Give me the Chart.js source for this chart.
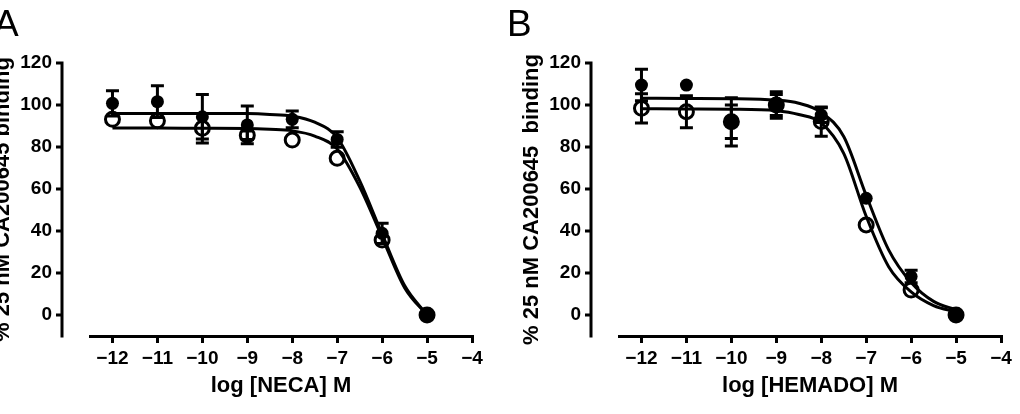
<!DOCTYPE html>
<html><head><meta charset="utf-8">
<script src="https://cdn.jsdelivr.net/npm/chart.js@4.4.1/dist/chart.umd.min.js"></script>
<style>
html,body{margin:0;padding:0;background:#fff;width:1020px;height:414px;overflow:hidden;position:relative}
canvas{position:absolute;top:0}
#cA{left:-20px}
#cB{left:509px}
.lbl{position:absolute;font-family:"Liberation Sans",Arial,sans-serif;font-size:37px;line-height:37px;color:#000}
</style></head><body>
<canvas id="cA" width="520" height="414"></canvas>
<canvas id="cB" width="520" height="414"></canvas>
<div class="lbl" style="left:-6px;top:5px">A</div>
<div class="lbl" style="left:507px;top:5px">B</div>
<script>
// ---- data ----
const doseLog = [-12, -11, -10, -9, -8, -7, -6, -5];
const necaFilled    = [100.8, 101.6, 94.4, 90.5, 93.2, 83.6, 38.9, 0];
const necaFilledSem = [6.0, 7.6, 10.6, 9.0, 4.0, 3.7, 4.8, 0];
const necaOpen      = [93.2, 92.5, 88.9, 85.6, 83.3, 74.6, 35.7, 0];
const necaOpenSem   = [0, 0, 7.0, 2.0, 0, 0, 0, 0];
const hemadoFilled    = [109.5, 109.5, 92.0, 100.0, 95.2, 55.6, 18.3, 0];
const hemadoFilledSem = [7.5, 0, 11.5, 6.3, 3.5, 0, 3.0, 0];
const hemadoOpen      = [98.4, 96.8, 92.0, 100.0, 92.1, 42.9, 11.9, 0];
const hemadoOpenSem   = [7.0, 7.6, 8.0, 5.0, 7.0, 0, 0, 0];

const fitLog = [-12, -11, -10, -9, -8.5, -8, -7.5, -7, -6.5, -6, -5.5, -5];
const necaFitFilled   = [96.0, 96.0, 96.0, 95.9, 95.5, 94.7, 91.8, 84.5, 64.0, 38.5, 14.0, 0.0];
const necaFitOpen     = [89.0, 89.0, 88.9, 88.8, 88.4, 87.7, 85.2, 79.0, 61.0, 37.0, 13.0, 0.0];
const hemadoFitFilled = [103.2, 103.1, 103.0, 102.3, 100.8, 96.5, 85.0, 57.0, 31.0, 15.5, 6.5, 2.5];
const hemadoFitOpen   = [98.2, 98.1, 98.0, 97.3, 95.5, 91.5, 77.0, 47.0, 23.0, 11.0, 4.5, 1.5];

const xTicks = [-12, -11, -10, -9, -8, -7, -6, -5, -4];
const xTickLabels = ['\u221212', '\u221211', '\u221210', '\u22129', '\u22128', '\u22127', '\u22126', '\u22125', '\u22124'];
const yTicks = [0, 20, 40, 60, 80, 100, 120];
const yTickLabels = ['0', '20', '40', '60', '80', '100', '120'];
const xTitles = ['log [NECA] M', 'log [HEMADO] M'];
const yTitles = ['% 25 nM CA200645 binding', '% 25 nM CA200645  binding'];

// ---- rendering ----
const FAM = "'Liberation Sans', Arial, sans-serif";
const AXIS_GAP = 28;

const prismPlugin = {
  id: 'prism',
  beforeDatasetsDraw(chart) {
    const {ctx, scales: {x, y}} = chart;
    ctx.save();
    ctx.strokeStyle = '#000';
    ctx.lineWidth = 3;
    chart.data.datasets.forEach(ds => {
      if (!ds.sem) return;
      ds.data.forEach((p, j) => {
        if (!ds.sem[j]) return;
        const px = x.getPixelForValue(p.x);
        const t = y.getPixelForValue(p.y + ds.sem[j]);
        const b = y.getPixelForValue(p.y - ds.sem[j]);
        ctx.beginPath();
        ctx.moveTo(px, t); ctx.lineTo(px, b);
        ctx.moveTo(px - 6.5, t); ctx.lineTo(px + 6.5, t);
        ctx.moveTo(px - 6.5, b); ctx.lineTo(px + 6.5, b);
        ctx.stroke();
      });
    });
    ctx.restore();
  },
  afterDraw(chart) {
    const {ctx, chartArea, scales: {y}} = chart;
    const ax = chartArea.left - AXIS_GAP;
    ctx.save();
    ctx.strokeStyle = '#000';
    ctx.lineWidth = 3;
    ctx.beginPath();
    ctx.moveTo(ax, y.getPixelForValue(y.max) - 1.5);
    ctx.lineTo(ax, y.getPixelForValue(y.min) + 1.5);
    yTicks.forEach(v => {
      const py = y.getPixelForValue(v);
      ctx.moveTo(ax - 6, py); ctx.lineTo(ax, py);
    });
    ctx.stroke();
    ctx.restore();
  }
};

function pts(xs, ys) { return xs.map((v, i) => ({x: v, y: ys[i]})); }

function makeChart(id, d) {
  return new Chart(document.getElementById(id), {
    type: 'scatter',
    data: {datasets: [
      {type: 'line', data: pts(fitLog, d.fitF), borderColor: '#000', borderWidth: 3, pointRadius: 0,
       cubicInterpolationMode: 'monotone', fill: false, order: 3},
      {type: 'line', data: pts(fitLog, d.fitO), borderColor: '#000', borderWidth: 3, pointRadius: 0,
       cubicInterpolationMode: 'monotone', fill: false, order: 3},
      {data: pts(doseLog, d.open), sem: d.openSem, pointRadius: 7, backgroundColor: 'rgba(0,0,0,0)',
       borderColor: '#000', borderWidth: 3, order: 2},
      {data: pts(doseLog, d.filled), sem: d.filledSem, pointRadius: 6.5, backgroundColor: '#000',
       borderColor: '#000', borderWidth: 0, order: 1}
    ]},
    options: {
      responsive: false, animation: false,
      layout: {padding: {top: 63, right: 28, bottom: 0, left: 0}},
      plugins: {legend: {display: false}, tooltip: {enabled: false}},
      scales: {
        x: {
          type: 'linear', min: -12.5, max: -4,
          afterBuildTicks: a => { a.ticks = xTicks.map(v => ({value: v})); },
          afterFit: a => { a.height = 78; },
          grid: {display: true, drawOnChartArea: false, drawTicks: true, tickLength: 7, color: '#000', lineWidth: 3},
          border: {display: true, color: '#000', width: 3},
          ticks: {color: '#000', font: {family: FAM, size: 19, weight: 'bold'}, padding: 4,
                  maxRotation: 0, autoSkip: false, callback: v => xTickLabels[xTicks.indexOf(v)]},
          title: {display: true, text: d.xTitle, color: '#000', font: {family: FAM, size: 22, weight: 'bold'},
                  padding: {top: 0, bottom: 15}}
        },
        y: {
          type: 'linear', min: -10, max: 120,
          afterBuildTicks: a => { a.ticks = yTicks.map(v => ({value: v})); },
          afterFit: a => { a.width = 110; },
          grid: {display: false, drawTicks: false, tickLength: 0},
          border: {display: false},
          ticks: {color: '#000', font: {family: FAM, size: 19, weight: 'bold'}, padding: 38,
                  autoSkip: false, callback: v => yTickLabels[yTicks.indexOf(v)]},
          title: {display: true, text: d.yTitle, color: '#000', font: {family: FAM, size: 22, weight: 'bold'},
                  padding: {top: 10, bottom: 0}}
        }
      }
    },
    plugins: [prismPlugin]
  });
}

makeChart('cA', {fitF: necaFitFilled, fitO: necaFitOpen, filled: necaFilled, filledSem: necaFilledSem,
  open: necaOpen, openSem: necaOpenSem, xTitle: xTitles[0], yTitle: yTitles[0]});
makeChart('cB', {fitF: hemadoFitFilled, fitO: hemadoFitOpen, filled: hemadoFilled, filledSem: hemadoFilledSem,
  open: hemadoOpen, openSem: hemadoOpenSem, xTitle: xTitles[1], yTitle: yTitles[1]});
</script>
</body></html>
